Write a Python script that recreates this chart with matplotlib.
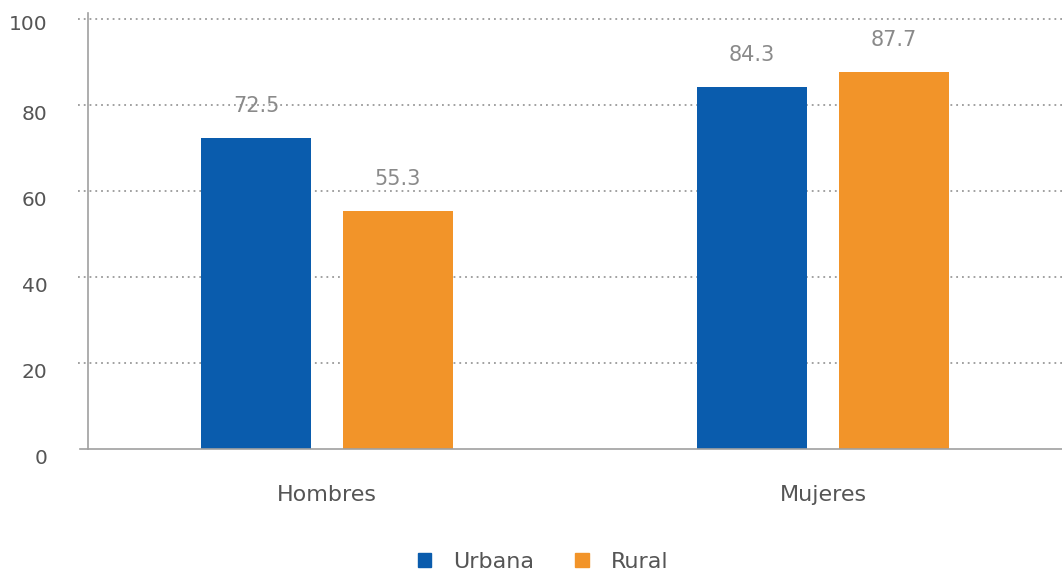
import matplotlib
matplotlib.use("Agg")
import matplotlib.pyplot as plt
import matplotlib.transforms as mtransforms
import numpy as np
from matplotlib.patches import Patch

categories = ["Hombres", "Mujeres"]
series_names = ["Urbana", "Rural"]
urbana = [72.5, 84.3]
rural = [55.3, 87.7]
yticks = [0, 20, 40, 60, 80, 100]

colors = ["#0A5CAD", "#F29429"]

plt.rcParams['font.family'] = ['DejaVu Sans']

fig = plt.figure(figsize=(10.62, 5.75), dpi=100)
ax = fig.add_axes([88/1062, 1 - 449/575, 1 - 88/1062, (449 - 13)/575])

x = np.arange(len(categories))
w = 0.222
off = 0.143
for vals, dx, c in [(urbana, -off, colors[0]), (rural, off, colors[1])]:
    bars = ax.bar(x + dx, vals, width=w, color=c, zorder=3)
    for b, v in zip(bars, vals):
        ax.annotate(f"{v:.1f}", (b.get_x() + b.get_width()/2, v),
                    xytext=(0, 22), textcoords="offset pixels",
                    ha="center", va="bottom", fontsize=15, color="#8A8A8A")

ax.set_xlim(-0.482, 1.482)
ax.set_ylim(0, 101.5)

trans = ax.get_yaxis_transform()
for t in yticks[1:]:
    ax.plot([-0.01, 1], [t, t], transform=trans, color="#9A9A9A", lw=1.3,
            linestyle=(0, (1, 2.2)), clip_on=False, zorder=1)
ax.plot([-0.008, 1], [0, 0], transform=trans, color="#A0A0A0", lw=1.2, clip_on=False, zorder=4)

for s in ["top", "right", "bottom"]:
    ax.spines[s].set_visible(False)
ax.spines["left"].set_color("#A0A0A0")
ax.spines["left"].set_linewidth(1.2)

ax.set_yticks(yticks)
ax.set_yticklabels([str(t) for t in yticks], fontsize=14.5, color="#555555")
ax.tick_params(axis="y", length=0, pad=29)
for t, lab in zip(yticks, ax.get_yticklabels()):
    dy = -3 if t == yticks[-1] else -7
    lab.set_transform(lab.get_transform() + mtransforms.ScaledTranslation(0, dy/100, fig.dpi_scale_trans))

ax.set_xticks(x)
ax.set_xticklabels(categories, fontsize=16, color="#555555")
ax.tick_params(axis="x", length=0, pad=26)

handles = [Patch(color=c) for c in colors]
fig.legend(handles, series_names, loc="center", bbox_to_anchor=(543/1062, 1 - 562/575),
           ncol=2, frameon=False, fontsize=16, handlelength=0.6, handleheight=0.6,
           columnspacing=1.85, handletextpad=1.0, labelcolor="#555555")

fig.savefig("out.png", dpi=100)
